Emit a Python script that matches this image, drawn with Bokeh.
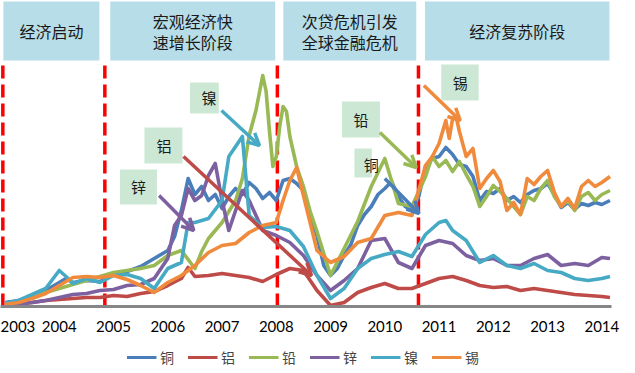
from bokeh.plotting import figure
from bokeh.layouts import column
from bokeh.models import Range1d, FixedTicker, Legend, LegendItem, Arrow, OpenHead
from bokeh.core.properties import value
from bokeh.embed import file_html
from bokeh.resources import INLINE

# ---------------- data (index) ----------------
TICK_YEARS = [2003, 2004, 2005, 2006, 2007, 2008, 2009, 2010, 2011, 2012, 2013, 2014]

CU_T = [2003.0, 2003.25, 2003.5, 2003.75, 2004.0, 2004.125, 2004.25, 2004.5, 2004.75, 2005.0, 2005.25, 2005.5, 2005.75,
        2006.0, 2006.125, 2006.25, 2006.375, 2006.5, 2006.625, 2006.75, 2006.875, 2007.0, 2007.125, 2007.25, 2007.375,
        2007.5, 2007.625, 2007.75, 2007.875, 2008.0, 2008.125, 2008.25, 2008.375, 2008.5, 2008.625, 2008.75, 2008.875,
        2009.0, 2009.125, 2009.25, 2009.375, 2009.5, 2009.625, 2009.75, 2009.875, 2010.0, 2010.125, 2010.25, 2010.375,
        2010.5, 2010.625, 2010.75, 2010.875, 2011.0, 2011.125, 2011.25, 2011.375, 2011.5, 2011.625, 2011.75, 2011.875,
        2012.0, 2012.125, 2012.25, 2012.375, 2012.5, 2012.625, 2012.75, 2012.875, 2013.0, 2013.125, 2013.25, 2013.375,
        2013.5, 2013.625, 2013.75, 2013.875, 2014.0, 2014.15]
CU_V = [4, 6, 10, 16, 24, 28, 24, 26, 25, 32, 35, 40, 48,
        56, 70, 96, 128, 112, 120, 106, 112, 98, 110, 118, 112,
        124, 118, 108, 114, 106, 126, 128, 123, 116, 91, 71, 41,
        31, 38, 51, 62, 81, 92, 100, 112, 118, 125, 110, 100,
        96, 110, 140, 148, 150, 159, 152, 142, 140, 130, 106, 115,
        113, 118, 106, 110, 104, 112, 116, 118, 123, 112, 99, 104,
        97, 103, 101, 104, 102, 106]

AL_T = [2003.0, 2003.25, 2003.5, 2003.75, 2004.0, 2004.25, 2004.5, 2004.75, 2005.0, 2005.25, 2005.5, 2005.75,
        2006.0, 2006.25, 2006.375, 2006.5, 2006.75, 2007.0, 2007.25, 2007.5, 2007.75, 2008.0, 2008.25, 2008.5, 2008.75,
        2009.0, 2009.25, 2009.5, 2009.75, 2010.0, 2010.25, 2010.5, 2010.75, 2011.0, 2011.25, 2011.5, 2011.75,
        2012.0, 2012.25, 2012.5, 2012.75, 2013.0, 2013.25, 2013.5, 2013.75, 2014.0, 2014.15]
AL_V = [3, 3, 4, 6, 7, 8, 9, 9, 11, 10, 13, 15,
        21, 28, 39, 30, 31, 33, 31, 29, 25, 32, 38, 36, 16,
        1, 4, 14, 19, 23, 18, 18, 23, 28, 30, 26, 21,
        19, 20, 16, 18, 16, 14, 12, 11, 10, 9]

PB_T = [2003.0, 2003.25, 2003.5, 2003.75, 2004.0, 2004.25, 2004.5, 2004.75, 2005.0, 2005.25, 2005.5, 2005.75,
        2006.0, 2006.25, 2006.5, 2006.625, 2006.75, 2007.0, 2007.25, 2007.375, 2007.5, 2007.625, 2007.75,
        2007.8125, 2007.875, 2007.9375, 2008.0, 2008.0625, 2008.125, 2008.1875, 2008.25, 2008.375, 2008.5,
        2008.625, 2008.75, 2009.0, 2009.25, 2009.5, 2009.75, 2010.0, 2010.25, 2010.5, 2010.75, 2010.875,
        2011.0, 2011.125, 2011.25, 2011.375, 2011.5, 2011.625, 2011.75, 2011.875,
        2012.0, 2012.125, 2012.25, 2012.375, 2012.5, 2012.625, 2012.75, 2012.875,
        2013.0, 2013.125, 2013.25, 2013.375, 2013.5, 2013.625, 2013.75, 2013.875, 2014.0, 2014.15]
PB_V = [3, 5, 9, 14, 18, 22, 26, 30, 34, 36, 38, 41,
        51, 56, 38, 55, 68, 84, 106, 128, 171, 196, 231,
        215, 175, 140, 150, 180, 200, 195, 170, 140, 120,
        95, 75, 31, 58, 85, 120, 148, 103, 100, 130, 150,
        140, 146, 135, 145, 132, 120, 100, 110,
        121, 115, 108, 100, 92, 110, 106, 118,
        126, 110, 100, 106, 96, 110, 114, 106, 112, 116]

ZN_T = [2003.0, 2003.25, 2003.5, 2003.75, 2004.0, 2004.25, 2004.5, 2004.75, 2005.0, 2005.25, 2005.5, 2005.75,
        2006.0, 2006.125, 2006.25, 2006.375, 2006.5, 2006.625, 2006.75, 2006.875,
        2007.0, 2007.125, 2007.25, 2007.375, 2007.5, 2007.75, 2008.0, 2008.25, 2008.5, 2008.75,
        2009.0, 2009.25, 2009.5, 2009.75, 2010.0, 2010.25, 2010.5, 2010.75, 2011.0, 2011.25, 2011.5, 2011.75,
        2012.0, 2012.25, 2012.5, 2012.75, 2013.0, 2013.25, 2013.5, 2013.75, 2014.0, 2014.15]
ZN_V = [2, 2, 4, 6, 9, 12, 13, 16, 17, 21, 22, 28,
        48, 81, 91, 118, 106, 111, 131, 143,
        106, 76, 96, 116, 106, 76, 71, 64, 51, 31,
        16, 26, 38, 66, 68, 44, 38, 61, 66, 63, 51, 46,
        48, 41, 41, 48, 52, 41, 43, 41, 49, 48]

NI_T = [2003.0, 2003.25, 2003.5, 2003.75, 2004.0, 2004.125, 2004.25, 2004.5, 2004.75, 2005.0, 2005.25, 2005.5, 2005.75,
        2006.0, 2006.25, 2006.375, 2006.5, 2006.75, 2007.0, 2007.125, 2007.25, 2007.375, 2007.5, 2007.75,
        2008.0, 2008.25, 2008.5, 2008.75, 2009.0, 2009.25, 2009.5, 2009.75, 2010.0, 2010.25, 2010.5, 2010.75,
        2011.0, 2011.125, 2011.25, 2011.5, 2011.75, 2012.0, 2012.25, 2012.5, 2012.75,
        2013.0, 2013.25, 2013.5, 2013.75, 2014.0, 2014.15]
NI_V = [3, 6, 12, 18, 36, 30, 23, 28, 24, 31, 32, 28, 18,
        38, 44, 84, 84, 88, 106, 150, 160, 170, 91, 79,
        80, 76, 60, 31, 8, 18, 38, 48, 52, 55, 50, 72,
        84, 86, 76, 66, 44, 51, 41, 38, 43,
        36, 34, 28, 26, 28, 30]

SN_T = [2003.0, 2003.25, 2003.5, 2003.75, 2004.0, 2004.25, 2004.5, 2004.75, 2005.0, 2005.25, 2005.5, 2005.75,
        2006.0, 2006.25, 2006.5, 2006.75, 2007.0, 2007.25, 2007.5, 2007.75,
        2008.0, 2008.125, 2008.25, 2008.375, 2008.5, 2008.75, 2009.0, 2009.25, 2009.5, 2009.75,
        2010.0, 2010.25, 2010.5, 2010.75, 2010.875, 2011.0, 2011.125, 2011.1875, 2011.25, 2011.3125, 2011.375,
        2011.5, 2011.625, 2011.75, 2011.875, 2012.0, 2012.125, 2012.25, 2012.375, 2012.5, 2012.625, 2012.75, 2012.875,
        2013.0, 2013.125, 2013.25, 2013.375, 2013.5, 2013.625, 2013.75, 2013.875, 2014.0, 2014.15]
SN_V = [2, 4, 8, 13, 21, 29, 30, 29, 31, 27, 21, 14,
        24, 31, 41, 54, 61, 63, 74, 81,
        84, 106, 126, 139, 111, 56, 44, 50, 64, 68,
        91, 94, 91, 141, 150, 163, 186, 168, 188, 190, 175,
        150, 158, 118, 128, 136, 125, 96, 104, 92, 128, 122, 130,
        136, 114, 100, 108, 98, 120, 126, 120, 124, 130]

SERIES_NAMES = ["铜", "铝", "铅", "锌", "镍", "锡"]
SERIES_COLORS = ["#4a7ebb", "#be4b48", "#98b954", "#7d60a0", "#46aac5", "#f08a3c"]

# phases (banners on top)
PHASE_LABELS = ["经济启动", "宏观经济快\n速增长阶段", "次贷危机引发\n全球金融危机", "经济复苏阶段"]
PHASE_START = [2002.97, 2004.94, 2008.13, 2010.74]
PHASE_END = [2004.74, 2007.98, 2010.58, 2014.14]
PHASE_DIVIDERS = [2002.96, 2004.84, 2008.02, 2010.62]

# callouts: box (x0, x1, y0, y1), text pos, arrow (x0, y0, x1, y1)
CALLOUT_LABELS = ["镍", "铝", "锌", "铅", "铜", "锡"]
CALLOUT_BOX = [(2006.41, 2006.94, 193, 224), (2005.57, 2006.27, 143, 179), (2005.12, 2005.80, 102, 137),
               (2009.21, 2009.91, 169, 205), (2009.44, 2009.76, 129, 158), (2011.04, 2011.73, 206, 242)]
CALLOUT_TEXT = [(2006.76, 209), (2005.93, 161), (2005.46, 120), (2009.56, 187), (2009.75, 142), (2011.39, 224)]
CALLOUT_ARROW = [(2006.99, 196, 2007.69, 161), (2006.29, 150, 2008.65, 31), (2005.84, 111, 2006.48, 76),
                 (2009.91, 174, 2010.58, 139), (2010.0, 128, 2010.63, 93), (2010.72, 221, 2011.39, 186)]
CALLOUT_COLOR = ["#46aac5", "#be4b48", "#7d60a0", "#98b954", "#4a7ebb", "#f08a3c"]

CJK = "Noto Sans CJK SC"

# ---------------- main figure ----------------
p = figure(width=635, height=340, output_backend="svg", toolbar_location=None,
           x_range=Range1d(2002.917, 2014.178), y_range=Range1d(0, 306),
           y_axis_location=None, min_border_left=0, min_border_right=10,
           min_border_top=0, min_border_bottom=34)
p.xgrid.visible = False
p.ygrid.visible = False
p.outline_line_color = None

ax = p.xaxis[0]
ax.ticker = FixedTicker(ticks=TICK_YEARS)
ax.axis_line_color = "#868686"
ax.axis_line_width = 3
ax.major_tick_line_color = None
ax.minor_tick_line_color = None
ax.major_label_text_font = "Lato"
ax.major_label_text_font_size = "15px"
ax.major_label_text_color = "#000000"
ax.major_label_standoff = 8

# banners (two-line labels drawn line by line)
p.quad(left=PHASE_START, right=PHASE_END, bottom=[246] * 4, top=[305] * 4,
       fill_color="#b7dde8", line_color=None)
bx, by, bt = [], [], []
for a, b, lab in zip(PHASE_START, PHASE_END, PHASE_LABELS):
    lines = lab.split("\n")
    ys = [276] if len(lines) == 1 else [286, 264.5]
    for ln, yy in zip(lines, ys):
        bx.append((a + b) / 2)
        by.append(yy)
        bt.append(ln)
p.text(x=bx, y=by, text=bt, text_align="center", text_baseline="middle", text_font=value(CJK),
       text_font_size="16px", text_color="#1a1a1a")

# phase dividers
p.segment(x0=PHASE_DIVIDERS, y0=[0] * 4, x1=PHASE_DIVIDERS, y1=[244] * 4,
          line_color="#ff0000", line_width=3.5, line_dash="13 6")

# series
series_t = [CU_T, AL_T, PB_T, ZN_T, NI_T, SN_T]
series_v = [CU_V, AL_V, PB_V, ZN_V, NI_V, SN_V]
for color, t, v in zip(SERIES_COLORS, series_t, series_v):
    p.line(t, v, line_color=color, line_width=3.6, line_join="round")

# callouts
for box, arr, c in zip(CALLOUT_BOX, CALLOUT_ARROW, CALLOUT_COLOR):
    p.quad(left=[box[0]], right=[box[1]], bottom=[box[2]], top=[box[3]],
           fill_color="#cce8d4", line_color=None)
    p.add_layout(Arrow(x_start=arr[0], y_start=arr[1], x_end=arr[2], y_end=arr[3],
                       line_color=c, line_width=3.5,
                       end=OpenHead(size=12, line_color=c, line_width=3.5)))
for lab, tp in zip(CALLOUT_LABELS, CALLOUT_TEXT):
    p.text(x=[tp[0]], y=[tp[1]], text=[lab], text_align="center", text_baseline="middle",
           text_font=value(CJK), text_font_size="15px", text_color="#1a1a1a")

# ---------------- legend strip ----------------
lg = figure(width=635, height=33, output_backend="svg", toolbar_location=None,
            x_range=Range1d(0, 1), y_range=Range1d(0, 1),
            x_axis_location=None, y_axis_location=None,
            min_border_left=0, min_border_right=24, min_border_top=0, min_border_bottom=0)
lg.xgrid.visible = False
lg.ygrid.visible = False
lg.outline_line_color = None
items = []
for name, color in zip(SERIES_NAMES, SERIES_COLORS):
    r = lg.line([-10, -9], [-10, -9], line_color=color, line_width=3.2)
    items.append(LegendItem(label=name, renderers=[r]))
legend = Legend(items=items, orientation="horizontal", location="center",
                glyph_width=30, glyph_height=20, label_standoff=4, spacing=7,
                padding=5, margin=0, border_line_color=None, background_fill_alpha=0,
                label_text_font=CJK, label_text_font_size="14px")
lg.add_layout(legend, "center")

layout = column(p, lg, spacing=0)
open("out.html", "w").write(file_html(layout, INLINE))
